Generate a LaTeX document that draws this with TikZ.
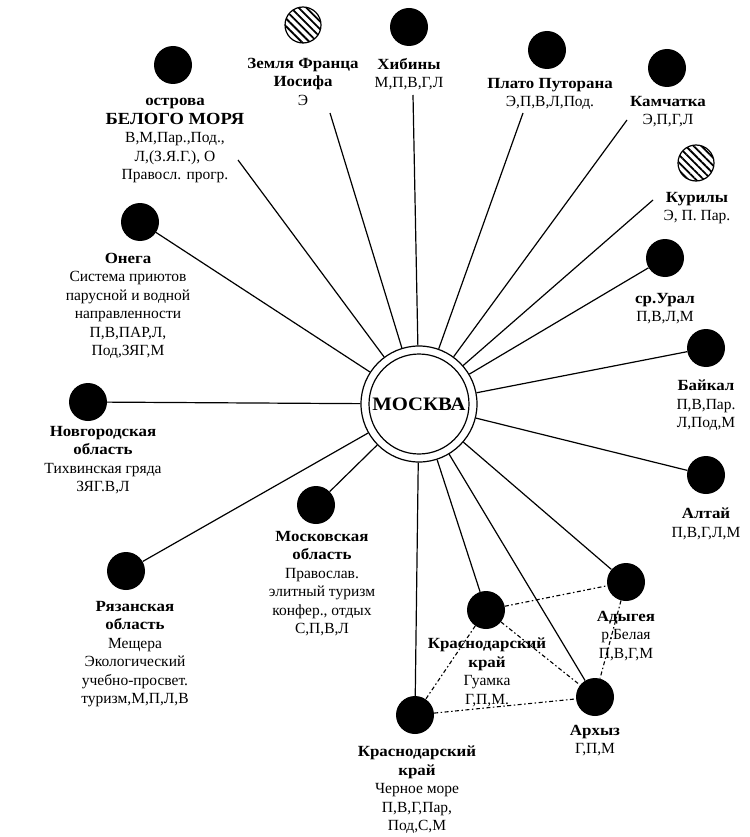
\documentclass[tikz,border=0pt]{standalone}
\usepackage{fontspec}
\setmainfont{Liberation Serif}[BoldFeatures={FakeStretch=1.09}]
\usetikzlibrary{patterns.meta}

\tikzset{
  site/.style={circle, fill=black, inner sep=0pt, minimum size=38pt},
  hatched/.style={circle, draw=black, line width=1.2pt, inner sep=0pt, minimum size=36pt,
    pattern={Lines[angle=-45,distance=5.5pt,line width=1.8pt]}},
  lbl/.style={anchor=north, align=center, inner sep=0pt, font=\fontsize{15.5}{18.5}\selectfont},
  spoke/.style={line width=1.2pt},
  link/.style={line width=1.1pt, dash pattern=on 4pt off 2.5pt on 1.5pt off 2.5pt},
}

\begin{document}
\begin{tikzpicture}[x=1pt,y=-1pt]
\useasboundingbox (0,0) rectangle (749,837);

% centre
\node[circle, draw, line width=1.2pt, minimum size=116pt, inner sep=0pt,
      font=\fontsize{19}{19}\selectfont\bfseries] (msk) at (419,404) {МОСКВА};
\draw[line width=1.2pt] (msk.center) circle[radius=50pt];

% destinations
\node[site] (bm) at (173,65) {};
\node[lbl] (bmt) at (175,98) {\textbf{острова}\\{\fontsize{17}{18.5}\selectfont\textbf{БЕЛОГО МОРЯ}}\\В,М,Пар.,Под.,\\Л,(З.Я.Г.), О\\Правосл. прогр.};
\coordinate (eBM) at (238,160);

\node[hatched] (zf) at (303,25) {};
\node[lbl] (zft) at (303,58) {\textbf{Земля Франца}\\\textbf{Иосифа}\\Э};
\coordinate (eZF) at (330,113);

\node[site] (kh) at (409,27) {};
\node[lbl] (kht) at (409,58) {\textbf{Хибины}\\М,П,В,Г,Л};
\coordinate (eKh) at (413,95);

\node[site] (pp) at (547,50) {};
\node[lbl] (ppt) at (550,78) {\textbf{Плато Путорана}\\Э,П,В,Л,Под.};
\coordinate (ePP) at (523,113);

\node[site] (km) at (667,68) {};
\node[lbl] (kmt) at (668,96) {\textbf{Камчатка}\\Э,П,Г,Л};
\coordinate (eKm) at (627,120);

\node[hatched] (ku) at (696,163) {};
\node[lbl] (kut) at (697,192) {\textbf{Курилы}\\Э, П. Пар.};
\coordinate (eKu) at (653,200);

\node[site] (ur) at (665,258) {};
\node[lbl] (urt) at (665,293) {\textbf{ср.Урал}\\П,В,Л,М};

\node[site] (bk) at (706,348) {};
\node[lbl] (bkt) at (706,380) {\textbf{Байкал}\\П,В,Пар.\\Л,Под,М};

\node[site] (al) at (706,475) {};
\node[lbl] (alt) at (706,508) {\textbf{Алтай}\\П,В,Г,Л,М};

\node[site] (ad) at (626,582) {};
\node[lbl] (adt) at (626,611) {\textbf{Адыгея}\\р.Белая\\П,В,Г,М};

\node[site] (ar) at (595,697) {};
\node[lbl] (art) at (595,725) {\textbf{Архыз}\\Г,П,М};

\node[site] (gu) at (486,610) {};
\node[lbl] (gut) at (487,638) {\textbf{Краснодарский}\\\textbf{край}\\Гуамка\\Г,П,М.};

\node[site] (cm) at (415,715) {};
\node[lbl] (cmt) at (417,746) {\textbf{Краснодарский}\\\textbf{край}\\Черное море\\П,В,Г,Пар,\\Под,С,М};

\node[site] (mo) at (316,505) {};
\node[lbl] (mot) at (322,531) {\textbf{Московская}\\\textbf{область}\\Православ.\\элитный туризм\\конфер., отдых\\С,П,В,Л};

\node[site] (rz) at (126,571) {};
\node[lbl] (rzt) at (135,601) {\textbf{Рязанская}\\\textbf{область}\\Мещера\\Экологический\\учебно-просвет.\\туризм,М,П,Л,В};

\node[site] (nv) at (88,402) {};
\node[lbl] (nvt) at (103,426) {\textbf{Новгородская}\\\textbf{область}\\Тихвинская гряда\\ЗЯГ.В,Л};

\node[site] (on) at (140,222) {};
\node[lbl] (ont) at (128,253) {\textbf{Онега}\\Система приютов\\парусной и водной\\направленности\\П,В,ПАР,Л,\\Под,ЗЯГ,М};

% spokes from the centre
\draw[spoke] (msk) -- (eBM);
\draw[spoke] (msk) -- (eZF);
\draw[spoke] (msk) -- (eKh);
\draw[spoke] (msk) -- (ePP);
\draw[spoke] (msk) -- (eKm);
\draw[spoke] (msk) -- (eKu);
\draw[spoke] (msk) -- (ur);
\draw[spoke] (msk) -- (bk);
\draw[spoke] (msk) -- (al);
\draw[spoke] (msk) -- (ad);
\draw[spoke] (msk) -- (ar);
\draw[spoke] (msk) -- (gu);
\draw[spoke] (msk) -- (cm);
\draw[spoke] (msk) -- (mo);
\draw[spoke] (msk) -- (rz);
\draw[spoke] (msk) -- (nv);
\draw[spoke] (msk) -- (on);

% links between the southern sites
\draw[link] (gu) -- (ad);
\draw[link] (gu) -- (ar);
\draw[link] (gu) -- (cm);
\draw[link] (cm) -- (ar);
\draw[link] (ad) -- (ar);
\end{tikzpicture}
\end{document}
